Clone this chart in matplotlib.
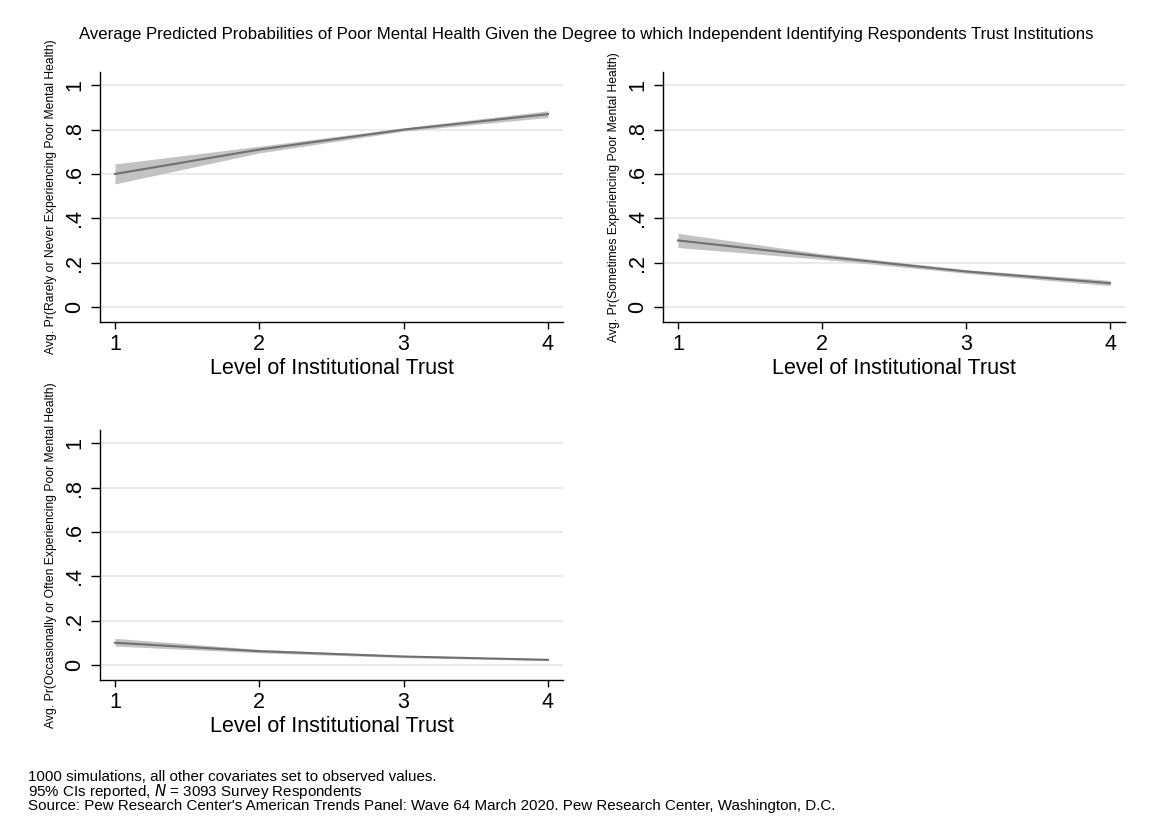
import matplotlib
matplotlib.use("Agg")
import matplotlib.pyplot as plt

plt.rcParams['font.family'] = ['Liberation Sans', 'DejaVu Sans']

trust = [1, 2, 3, 4]

rarely_mean = [0.600, 0.710, 0.800, 0.870]
rarely_lo = [0.555, 0.695, 0.793, 0.855]
rarely_hi = [0.645, 0.725, 0.808, 0.885]

sometimes_mean = [0.300, 0.228, 0.160, 0.107]
sometimes_lo = [0.268, 0.215, 0.152, 0.096]
sometimes_hi = [0.332, 0.240, 0.168, 0.120]

often_mean = [0.100, 0.062, 0.038, 0.023]
often_lo = [0.085, 0.055, 0.033, 0.020]
often_hi = [0.120, 0.070, 0.043, 0.026]

ylabels = [
    "Avg. Pr(Rarely or Never Experiencing Poor Mental Health)",
    "Avg. Pr(Sometimes Experiencing Poor Mental Health)",
    "Avg. Pr(Occasionally or Often Experiencing Poor Mental Health)",
]
yticks = [0, 0.2, 0.4, 0.6, 0.8, 1.0]
yticklabels = ["0", ".2", ".4", ".6", ".8", "1"]

title = ("Average Predicted Probabilities of Poor Mental Health Given the Degree "
         "to which Independent Identifying Respondents Trust Institutions")
notes = [
    "1000 simulations, all other covariates set to observed values.",
    r"95% CIs reported, $\it{N}$ = 3093 Survey Respondents",
    "Source: Pew Research Center's American Trends Panel: Wave 64 March 2020. "
    "Pew Research Center, Washington, D.C.",
]

fig = plt.figure(figsize=(11.52, 8.38), dpi=100)

W, H = 1152, 838
boxes = [(100, 72, 563, 322), (663, 72, 1125, 322), (100, 430, 563, 680)]
series = [(rarely_mean, rarely_lo, rarely_hi),
          (sometimes_mean, sometimes_lo, sometimes_hi),
          (often_mean, often_lo, often_hi)]

for (x0, y0, x1, y1), (m, lo, hi), ylab in zip(boxes, series, ylabels):
    ax = fig.add_axes([x0 / W, 1 - y1 / H, (x1 - x0) / W, (y1 - y0) / H])
    ax.fill_between(trust, lo, hi, color='#c2c2c2', linewidth=0, zorder=2)
    ax.plot(trust, m, color='#707070', linewidth=1.5, zorder=3)
    ax.set_xlim(0.896, 4.104)
    ax.set_ylim(-0.068, 1.06)
    ax.set_yticks(yticks)
    ax.set_yticklabels(yticklabels, rotation=90, va='center', fontsize=15.5)
    ax.set_xticks(trust)
    ax.set_xticklabels([str(t) for t in trust], fontsize=15.5)
    ax.grid(axis='y', color='#e6e6e6', linewidth=1.2, zorder=0)
    ax.set_axisbelow(True)
    for s in ('top', 'right'):
        ax.spines[s].set_visible(False)
    for s in ('left', 'bottom'):
        ax.spines[s].set_linewidth(1.0)
        ax.spines[s].set_color('black')
    ax.tick_params(axis='y', direction='out', length=6.5, width=1.0, pad=4)
    ax.tick_params(axis='x', direction='out', length=5, width=1.0, pad=4)
    ax.set_xlabel("Level of Institutional Trust", fontsize=15.5, labelpad=2)
    ax.set_ylabel(ylab, fontsize=8.7)
    ax.yaxis.set_label_coords(-43 / (x1 - x0), 0.5)

fig.text(586 / W, 1 - 34 / H, title, ha='center', va='center', fontsize=12.1)
for i, line in enumerate(notes):
    fig.text(28 / W, 1 - (777 + i * 14.5) / H, line, ha='left', va='center',
             fontsize=10.9)

fig.savefig("out.png", dpi=100, facecolor='white')
